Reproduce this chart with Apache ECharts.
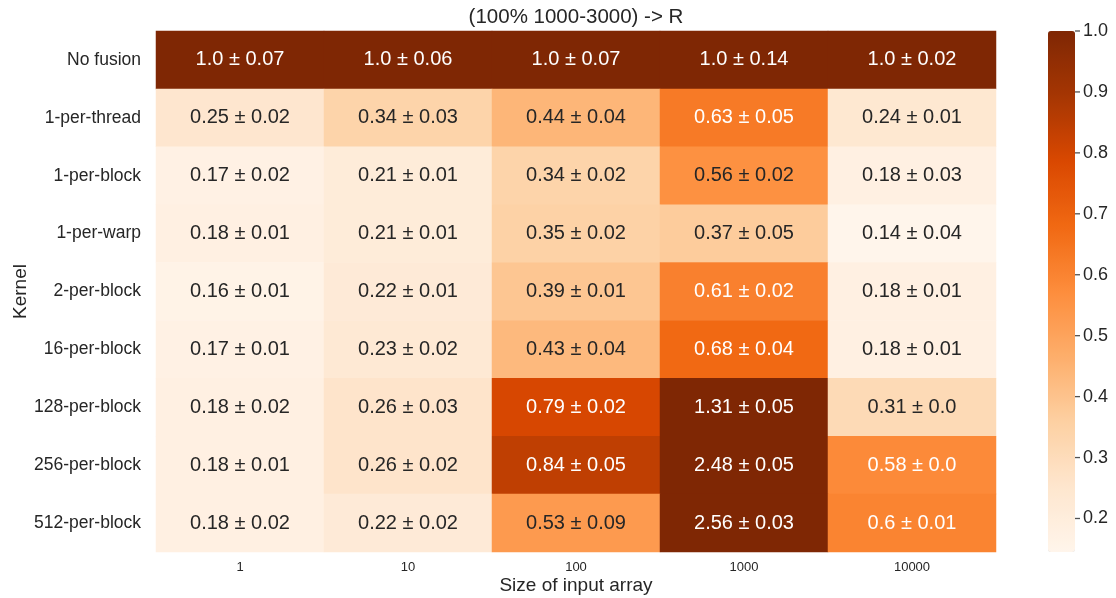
<!DOCTYPE html>
<html>
<head>
<meta charset="utf-8">
<script src="https://cdn.jsdelivr.net/npm/echarts@6/dist/echarts.min.js"></script>
<style>
  html, body { margin: 0; padding: 0; background: #ffffff; }
  #chart { width: 1116px; height: 598px; }
</style>
</head>
<body>
<div id="chart"></div>
<script>
// Relative runtime (normalised to "No fusion") per kernel and input size
const chartTitle = '(100% 1000-3000) -> R';
const kernels = ['No fusion', '1-per-thread', '1-per-block', '1-per-warp', '2-per-block',
                 '16-per-block', '128-per-block', '256-per-block', '512-per-block'];
const sizes = ['1', '10', '100', '1000', '10000'];

const meanRows = [
  [1.0, 1.0, 1.0, 1.0, 1.0],
  [0.25, 0.34, 0.44, 0.63, 0.24],
  [0.17, 0.21, 0.34, 0.56, 0.18],
  [0.18, 0.21, 0.35, 0.37, 0.14],
  [0.16, 0.22, 0.39, 0.61, 0.18],
  [0.17, 0.23, 0.43, 0.68, 0.18],
  [0.18, 0.26, 0.79, 1.31, 0.31],
  [0.18, 0.26, 0.84, 2.48, 0.58],
  [0.18, 0.22, 0.53, 2.56, 0.6]
];
const stdRows = [
  [0.07, 0.06, 0.07, 0.14, 0.02],
  [0.02, 0.03, 0.04, 0.05, 0.01],
  [0.02, 0.01, 0.02, 0.02, 0.03],
  [0.01, 0.01, 0.02, 0.05, 0.04],
  [0.01, 0.01, 0.01, 0.02, 0.01],
  [0.01, 0.02, 0.04, 0.04, 0.01],
  [0.02, 0.03, 0.02, 0.05, 0.0],
  [0.01, 0.02, 0.05, 0.05, 0.0],
  [0.02, 0.02, 0.09, 0.03, 0.01]
];
const colorbarTicks = [0.2, 0.3, 0.4, 0.5, 0.6, 0.7, 0.8, 0.9, 1.0];
const colorMin = 0.145;
const colorMax = 1.0;

// Sequential orange palette, light to dark
const oranges = ['#fff5eb', '#fee6ce', '#fdd0a2', '#fdae6b', '#fd8d3c',
                 '#f16913', '#d94801', '#a63603', '#7f2704'];

const FONT = '"Liberation Sans", Arial, sans-serif';
const DARK = '#262626';

function pyStr(v) {
  return Number.isInteger(v) ? v.toFixed(1) : String(v);
}
function clampColor(v) {
  return Math.min(colorMax, Math.max(colorMin, v));
}
function hexToRgb(h) {
  return [parseInt(h.slice(1, 3), 16), parseInt(h.slice(3, 5), 16), parseInt(h.slice(5, 7), 16)];
}
function paletteRgb(v) {
  const t = (clampColor(v) - colorMin) / (colorMax - colorMin);
  const pos = t * (oranges.length - 1);
  const i = Math.min(Math.floor(pos), oranges.length - 2);
  const f = pos - i;
  const a = hexToRgb(oranges[i]), b = hexToRgb(oranges[i + 1]);
  return a.map((x, k) => x + (b[k] - x) * f);
}
function luminance(rgb) {
  const lin = rgb.map(c => {
    c = c / 255;
    return c <= 0.03928 ? c / 12.92 : Math.pow((c + 0.055) / 1.055, 2.4);
  });
  return 0.2126 * lin[0] + 0.7152 * lin[1] + 0.0722 * lin[2];
}

const cells = [];
meanRows.forEach((row, r) => {
  row.forEach((m, c) => {
    const textColor = luminance(paletteRgb(m)) > 0.408 ? DARK : '#ffffff';
    cells.push({
      value: [c, r, clampColor(m), m, stdRows[r][c]],
      label: { color: textColor }
    });
  });
});

// Colorbar tick marks, placed on the right edge of the colorbar
const colorbarTickMarks = colorbarTicks.map(v => [1, v]);

const chart = echarts.init(document.getElementById('chart'), null, { renderer: 'canvas' });

chart.setOption({
  backgroundColor: '#ffffff',
  animation: false,
  title: {
    text: chartTitle,
    left: 576,
    textAlign: 'center',
    top: 7,
    padding: 0,
    textStyle: { fontFamily: FONT, fontSize: 20.5, fontWeight: 'normal', color: DARK }
  },
  grid: [
    { left: 156, top: 31, width: 840, height: 521, outerBoundsMode: 'none', containLabel: false },
    { left: 1048, top: 31, width: 27, height: 521, outerBoundsMode: 'none', containLabel: false }
  ],
  xAxis: [
    {
      type: 'category',
      gridIndex: 0,
      data: sizes,
      name: 'Size of input array',
      nameLocation: 'middle',
      nameGap: 24,
      nameMoveOverlap: false,
      nameTextStyle: { fontFamily: FONT, fontSize: 19, color: DARK },
      axisLine: { show: false },
      axisTick: { show: false },
      axisLabel: { fontFamily: FONT, fontSize: 13, color: DARK, margin: 9 },
      splitArea: { show: false }
    },
    {
      type: 'value',
      gridIndex: 1,
      min: 0, max: 1,
      show: false
    }
  ],
  yAxis: [
    {
      type: 'category',
      gridIndex: 0,
      data: kernels,
      inverse: true,
      name: 'Kernel',
      nameLocation: 'middle',
      nameGap: 126,
      nameMoveOverlap: false,
      nameTextStyle: { fontFamily: FONT, fontSize: 19, color: DARK },
      axisLine: { show: false },
      axisTick: { show: false },
      axisLabel: { fontFamily: FONT, fontSize: 17.5, color: DARK, margin: 15 },
      splitArea: { show: false }
    },
    {
      type: 'value',
      gridIndex: 1,
      position: 'right',
      min: colorMin,
      max: colorMax,
      axisLine: { show: false },
      splitLine: { show: false },
      axisTick: { show: false },
      axisLabel: {
        fontFamily: FONT, fontSize: 18, color: DARK, margin: 8,
        customValues: colorbarTicks,
        formatter: v => v.toFixed(1)
      }
    }
  ],
  visualMap: {
    type: 'continuous',
    seriesIndex: 0,
    dimension: 2,
    min: colorMin,
    max: colorMax,
    orient: 'vertical',
    left: 1048,
    top: 31,
    padding: 0,
    itemWidth: 27,
    itemHeight: 521,
    calculable: false,
    hoverLink: false,
    inRange: { color: oranges }
  },
  series: [
    {
      type: 'heatmap',
      xAxisIndex: 0,
      yAxisIndex: 0,
      data: cells,
      itemStyle: { borderWidth: 0 },
      label: {
        show: true,
        fontFamily: FONT,
        fontSize: 20,
        formatter: p => pyStr(p.value[3]) + ' \u00b1 ' + pyStr(p.value[4])
      },
      emphasis: { disabled: true }
    },
    {
      type: 'scatter',
      xAxisIndex: 1,
      yAxisIndex: 1,
      data: colorbarTickMarks,
      symbol: 'rect',
      symbolSize: [5, 1.3],
      symbolOffset: [2.5, 0],
      itemStyle: { color: DARK },
      silent: true,
      clip: false,
      z: 10
    }
  ]
});
</script>
</body>
</html>
